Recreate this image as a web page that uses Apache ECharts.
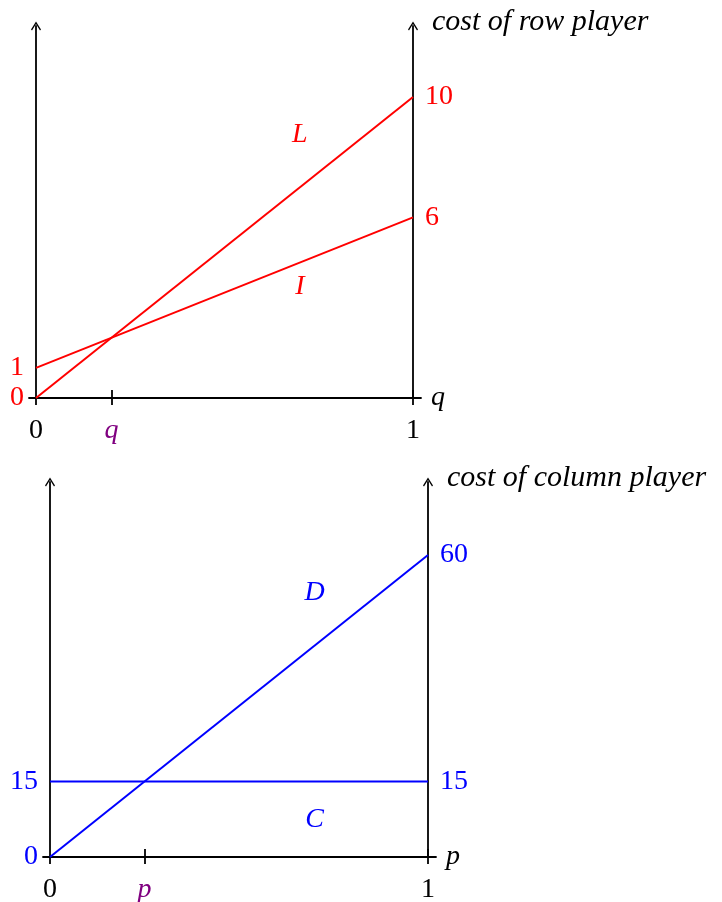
<!DOCTYPE html>
<html><head><meta charset="utf-8">
<script src="https://cdn.jsdelivr.net/npm/echarts@6/dist/echarts.min.js"></script>
<style>html,body{margin:0;padding:0;background:#fff}#c{width:722px;height:902px}</style>
</head><body><div id="c"></div>
<script>
// ---- data ----
const xEnds = [0, 1];
const rowL = [0, 10];
const rowI = [1, 6];
const colD = [0, 60];
const colC = [15, 15];
const qStar = 0.2;
const pStar = 0.25;
const topXTickValues = [0, qStar, 1];
const topXTickLabels = ['0', 'q', '1'];
const botXTickValues = [0, pStar, 1];
const botXTickLabels = ['0', 'p', '1'];
const topLeftTicks = [0, 1];
const topRightTicks = [6, 10];
const botLeftTicks = [0, 15];
const botRightTicks = [15, 60];
const topLineNames = ['L', 'I'];
const topLineLabelAt = [[0.7, 8.74], [0.7, 3.69]];
const botLineNames = ['D', 'C'];
const botLineLabelAt = [[0.7, 52.5], [0.7, 7.4]];

// ---- styling ----
const RED = '#ff0000', BLUE = '#0000ff', PURPLE = '#800080';
const FONT = '"Liberation Serif", "DejaVu Serif", serif';
const NUM = 28;
const arrow = 'path://M5,0 L10,8 L9,9 L5,2.6 L1,9 L0,8 Z';
const axLine = {color: '#000', width: 1.8};

function xAxes(grid, vals, labels, accent, name, ymin, lowerOffset) {
  return [
    {
      gridIndex: grid, type: 'value', min: -0.0186, max: 1.0212,
      axisLine: {onZero: false, lineStyle: axLine},
      splitLine: {show: false},
      axisTick: {show: true, customValues: vals, length: 7, lineStyle: axLine},
      axisLabel: {
        customValues: vals, margin: 19,
        formatter: v => { const i = vals.indexOf(v); return i === 1 ? '{a|' + labels[i] + '}' : '{k|' + labels[i] + '}'; },
        rich: {
          a: {color: PURPLE, fontFamily: FONT, fontStyle: 'italic', fontSize: NUM},
          k: {color: '#000', fontFamily: FONT, fontSize: NUM}
        }
      },
      name: name, nameLocation: 'end', nameGap: 10,
      nameTextStyle: {color: '#000', fontFamily: FONT, fontStyle: 'italic', fontSize: NUM, verticalAlign: 'middle'}
    },
    {
      gridIndex: grid, type: 'value', min: -0.0186, max: 1.0212, position: 'top', offset: lowerOffset,
      axisLine: {show: false},
      splitLine: {show: false},
      axisTick: {show: true, customValues: [vals[1], vals[2]], length: 8, lineStyle: axLine},
      axisLabel: {show: false}
    }
  ];
}

function yAxes(grid, max, leftVals, rightVals, color, name, lOff, rOff) {
  const lab = vals => ({customValues: vals, margin: 12, color: color, fontFamily: FONT, fontSize: NUM});
  return [
    {
      gridIndex: grid, type: 'value', min: 0, max: max, position: 'left', offset: lOff,
      axisLine: {show: true, onZero: false, symbol: ['none', arrow], symbolSize: [10, 9], lineStyle: axLine},
      axisTick: {show: false}, splitLine: {show: false},
      axisLabel: lab(leftVals)
    },
    {
      gridIndex: grid, type: 'value', min: 0, max: max, position: 'right', offset: rOff,
      axisLine: {show: true, onZero: false, symbol: ['none', arrow], symbolSize: [10, 9], lineStyle: axLine},
      axisTick: {show: false}, splitLine: {show: false},
      axisLabel: lab(rightVals),
      name: name, nameLocation: 'end', nameGap: 4,
      nameTextStyle: {color: '#000', fontFamily: FONT, fontStyle: 'italic', fontSize: 30, align: 'left', verticalAlign: 'middle', padding: [0, 0, 0, 19]}
    }
  ];
}

function lineSeries(xi, yi, vals, color) {
  return {
    type: 'line', xAxisIndex: xi, yAxisIndex: yi, symbol: 'none', silent: true,
    lineStyle: {color: color, width: 2}, z: 5,
    data: xEnds.map((x, i) => [x, vals[i]])
  };
}
function nameSeries(xi, yi, names, at, color) {
  return {
    type: 'scatter', xAxisIndex: xi, yAxisIndex: yi, symbolSize: 0, silent: true,
    itemStyle: {opacity: 1, color: color},
    data: names.map((n, i) => [at[i][0], at[i][1], n]),
    label: {show: true, position: 'inside', formatter: p => p.value[2], color: color, opacity: 1,
      fontFamily: FONT, fontStyle: 'italic', fontSize: NUM}
  };
}

const option = {
  animation: false,
  backgroundColor: '#fff',
  grid: [
    {left: 29, width: 392, top: 26, height: 372, outerBoundsMode: 'none', containLabel: false},
    {left: 43, width: 393, top: 482, height: 375, outerBoundsMode: 'none', containLabel: false}
  ],
  xAxis: [].concat(
    xAxes(0, topXTickValues, topXTickLabels, PURPLE, 'q', 0, -372),
    xAxes(1, botXTickValues, botXTickLabels, PURPLE, 'p', 0, -375)
  ),
  yAxis: [].concat(
    yAxes(0, 12.36, topLeftTicks, topRightTicks, RED, 'cost of row player', -7, -8),
    yAxes(1, 74.5, botLeftTicks, botRightTicks, BLUE, 'cost of column player', -7, -8)
  ),
  series: [
    lineSeries(0, 0, rowL, RED),
    lineSeries(0, 0, rowI, RED),
    nameSeries(0, 0, topLineNames, topLineLabelAt, RED),
    lineSeries(2, 2, colD, BLUE),
    lineSeries(2, 2, colC, BLUE),
    nameSeries(2, 2, botLineNames, botLineLabelAt, BLUE)
  ]
};
const chart = echarts.init(document.getElementById('c'), null, {renderer: 'canvas'});
chart.setOption(option);
</script></body></html>
